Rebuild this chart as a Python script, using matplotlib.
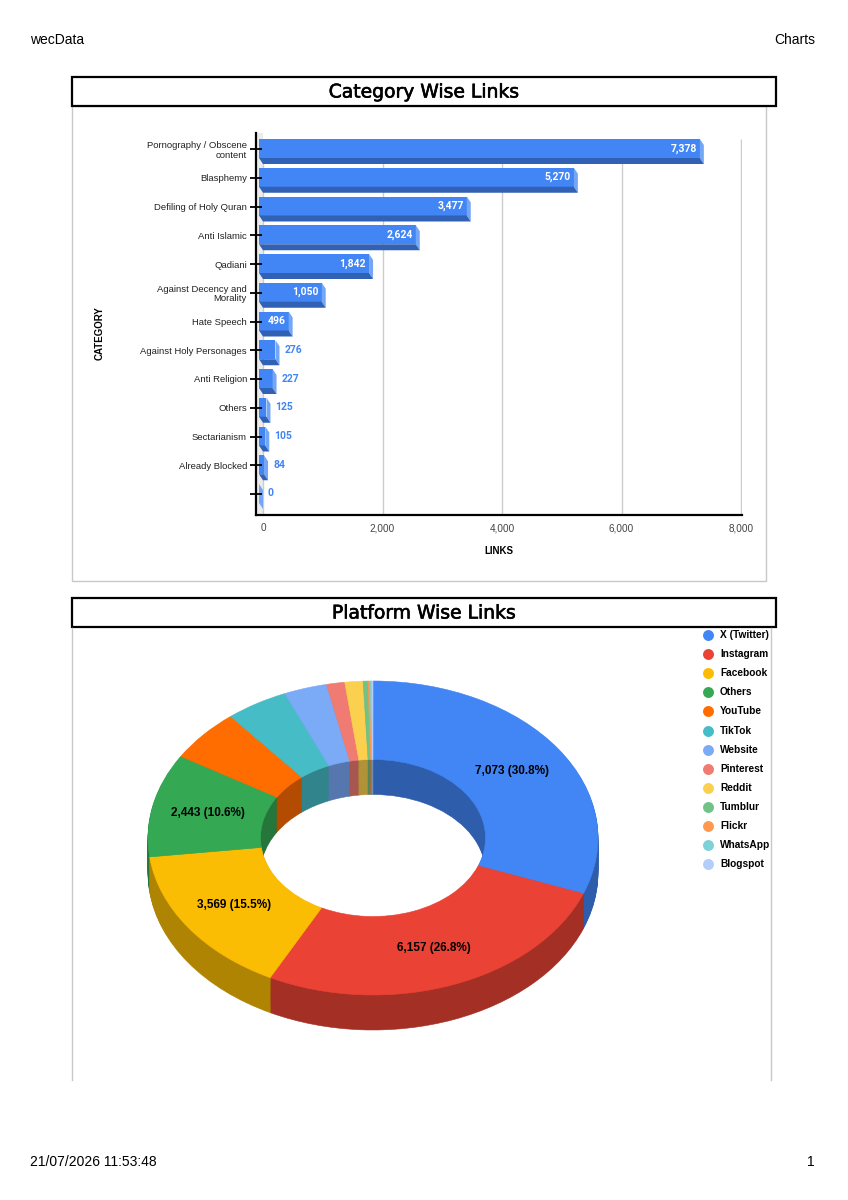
import numpy as np
import matplotlib
matplotlib.use('Agg')
import matplotlib.pyplot as plt
from matplotlib.patches import Rectangle
import matplotlib.colors as mcolors
import matplotlib.patheffects as pe

# ---- data ----
categories = ["Pornography / Obscene\ncontent", "Blasphemy", "Defiling of Holy Quran",
              "Anti Islamic", "Qadiani", "Against Decency and\nMorality", "Hate Speech",
              "Against Holy Personages", "Anti Religion", "Others", "Sectarianism",
              "Already Blocked", ""]
links = [7378, 5270, 3477, 2624, 1842, 1050, 496, 276, 227, 125, 105, 84, 0]
x_ticks = [0, 2000, 4000, 6000, 8000]

platforms = ["X (Twitter)", "Instagram", "Facebook", "Others", "YouTube", "TikTok",
             "Website", "Pinterest", "Reddit", "Tumblur", "Flickr", "WhatsApp", "Blogspot"]
platform_links = [7073, 6157, 3569, 2443, 1240, 1033, 712, 300, 300, 80, 35, 28, 18]
platform_colors = ["#4285f4", "#ea4335", "#fbbc04", "#34a853", "#ff6d01", "#46bdc6",
                   "#7baaf7", "#f07b72", "#fcd04f", "#71c287", "#ff994d", "#7ed1d7", "#b3cefb"]

W, H = 848, 1200
fig = plt.figure(figsize=(W / 100, H / 100), dpi=100)
plt.rcParams['font.family'] = ['Liberation Sans', 'DejaVu Sans']


def px_axes(x0, y0, x1, y1):
    return fig.add_axes([x0 / W, 1 - y1 / H, (x1 - x0) / W, (y1 - y0) / H])


# page layer (header, footer, boxes, legend)
page = fig.add_axes([0, 0, 1, 1])
page.set_xlim(0, W)
page.set_ylim(H, 0)
page.axis('off')

page.text(30, 40, "wecData", fontsize=10, va='center', ha='left')
page.text(815, 40, "Charts", fontsize=10, va='center', ha='right')
page.text(30, 1162, "21/07/2026 11:53:48", fontsize=10, va='center', ha='left')
page.text(815, 1162, "1", fontsize=10, va='center', ha='right')

page.add_patch(Rectangle((72, 106), 694, 475, fill=False, ec='#c8c8c8', lw=1))
page.plot([72, 72], [628, 1080], color='#c8c8c8', lw=1)
page.plot([771, 771], [628, 1080], color='#c8c8c8', lw=1)
for y0, title in [(77, "Category Wise Links"), (598, "Platform Wise Links")]:
    page.add_patch(Rectangle((72, y0), 704, 29, fc='white', ec='black', lw=1.6))
    page.text(424, y0 + 15, title, fontsize=13.5, family='DejaVu Sans',
              ha='center', va='center',
              path_effects=[pe.withStroke(linewidth=0.45, foreground='black')])

page.text(100, 333, "CATEGORY", fontsize=7, fontweight='bold', rotation=90,
          ha='center', va='center')
page.text(499, 551, "LINKS", fontsize=7, fontweight='bold', ha='center', va='center')

# ---- bar chart ----
bx = px_axes(256, 133, 742, 515)
kx = 478 / 8000          # px per link
ky = 28.75               # px per category
xl = ((256 - 263) / kx, (742 - 263) / kx)
yl = ((515 - 149) / ky, (133 - 149) / ky)
bx.set_xlim(*xl)
bx.set_ylim(*yl)
dx, dy = 4 / kx, 6 / ky

idx = np.arange(len(links))
top = idx - 10 / ky
bot = idx + 9 / ky

bx.set_axisbelow(False)
bx.axvspan(xl[0], 0, color='#ececec', lw=0, zorder=0)
bx.vlines(x_ticks, (139 - 149) / ky, yl[0], color='#cccccc', lw=1, zorder=0.5)
bx.barh((top + bot) / 2, links, left=-dx, height=19 / ky, color='#4285f4', lw=0, zorder=2)
for i, v in enumerate(links):
    bx.fill([v - dx, v, v, v - dx], [top[i], top[i] + dy, bot[i] + dy, bot[i]],
            color='#74a6f6', lw=0, zorder=2)
    bx.fill([-dx, v - dx, v, 0], [bot[i], bot[i], bot[i] + dy, bot[i] + dy],
            color='#3161b5', lw=0, zorder=2)
    ym = (top[i] + bot[i]) / 2
    if v >= 400:
        bx.text(v - dx - 3 / kx, ym, f"{v:,}", color='white', fontsize=7.5,
                fontweight='bold', family='Roboto', ha='right', va='center', zorder=4)
    else:
        bx.text(v + 5 / kx, ym, f"{v:,}", color='#4285f4', fontsize=7.5,
                fontweight='bold', family='Roboto', ha='left', va='center', zorder=4)

for s in ['top', 'right']:
    bx.spines[s].set_visible(False)
for s in ['left', 'bottom']:
    bx.spines[s].set_linewidth(1.6)
    bx.spines[s].set_zorder(5)
bx.set_yticks(idx, categories, fontsize=6.8)
for lab in bx.get_yticklabels():
    lab.set_linespacing(1.1)
    lab.set_color('#222222')
bx.tick_params(axis='y', direction='inout', length=9, width=1.3, pad=2)
bx.set_xticks(x_ticks, [f"{t:,}" for t in x_ticks])
bx.tick_params(axis='x', length=0, pad=6, labelsize=7.2, labelcolor='#444444')

# ---- 3D donut ----
px = px_axes(80, 650, 666, 1070)
thick = 35 / 157
n_layers = 36
dark = [tuple(c * 0.7 for c in mcolors.to_rgb(col)) for col in platform_colors]


def donut(cols, cy):
    wedges, _ = px.pie(platform_links, colors=cols, startangle=90, counterclock=False,
                       center=(0, cy), radius=1, wedgeprops=dict(width=0.5, linewidth=0.4))
    for w in wedges:
        w.set_edgecolor(w.get_facecolor())


for k in range(n_layers):
    donut(dark, -thick + thick * k / n_layers)
donut(platform_colors, 0)

total = sum(platform_links)
cum = np.cumsum([0] + platform_links[:-1])
for v, c0 in zip(platform_links, cum):
    pct = v / total * 100
    if pct < 10:
        continue
    mid = (c0 + v / 2) / total
    th = np.deg2rad(90 - 360 * mid)
    px.text(0.75 * np.cos(th), 0.75 * np.sin(th), f"{v:,} ({pct:.1f}%)",
            fontsize=8.5, fontweight='bold', ha='center', va='center', zorder=10)

px.set_aspect('auto')
px.set_xlim(-293 / 225, 293 / 225)
px.set_ylim(-(1070 - 838) / 157, (838 - 650) / 157)
px.axis('off')
px.patch.set_visible(False)

# legend
for j, (name, col) in enumerate(zip(platforms, platform_colors)):
    yy = 635 + 19.1 * j
    page.scatter([708], [yy], s=62, color=col, lw=0, zorder=5)
    page.text(720, yy, name, fontsize=7.3, fontweight='bold', ha='left', va='center')

fig.savefig('out.png', dpi=100)
